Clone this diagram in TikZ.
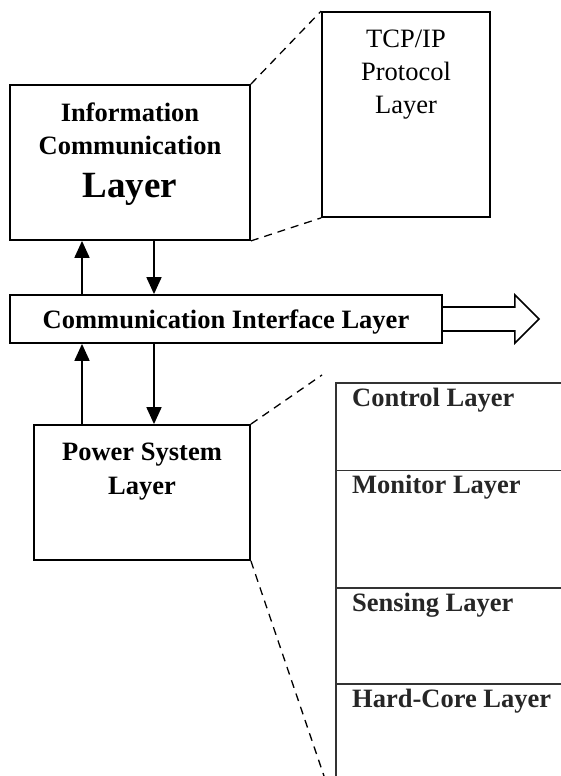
\documentclass[tikz,border=0pt]{standalone}
\usepackage{fontspec}
\setmainfont{Liberation Serif}
\usetikzlibrary{arrows.meta}

\tikzset{
	layerbox/.style={draw, line width=1.8pt, inner sep=0pt},
	boxtext/.style={anchor=north, align=center, inner sep=0pt, yshift=-19pt},
	boldtext/.style={font=\fontsize{26.5}{33}\selectfont\bfseries},
	plaintext/.style={font=\fontsize{26.5}{33}\selectfont},
	updown/.style={line width=1.8pt, -{Triangle[width=15pt,length=17pt]}},
	zoomline/.style={line width=1.3pt, dash pattern=on 8pt off 6pt},
	stackrow/.style={draw=black!80, line width=1.8pt, inner sep=0pt, anchor=north west, minimum width=260pt},
	rowtext/.style={anchor=north west, inner sep=0pt, xshift=17pt, yshift=-5.5pt, text=black!85, font=\fontsize{26.5}{30}\selectfont\bfseries}
}

\begin{document}
\begin{tikzpicture}[x=1pt, y=-1pt]
	\useasboundingbox (0,0) rectangle (561,776);
	\clip (0,0) rectangle (561,776);

	\node[layerbox, minimum width=240pt, minimum height=155pt,
		label={[boxtext, boldtext]north:Information\\Communication\\[10pt]{\fontsize{37}{40}\selectfont Layer}}] (info) at (130,162.5) {};
	\node[layerbox, minimum width=168pt, minimum height=205pt,
		label={[boxtext, plaintext]north:TCP/IP\\Protocol\\Layer}] (tcp) at (406,114.5) {};
	\node[layerbox, boldtext, minimum width=432pt, minimum height=48pt, text height=18pt, text depth=0pt] (comm) at (226,319) {Communication Interface Layer};
	\node[layerbox, minimum width=216pt, minimum height=135pt,
		label={[boxtext, boldtext, font=\fontsize{26.5}{34}\selectfont\bfseries]north:Power System\\Layer}] (power) at (142,492.5) {};

	% layers inside the power system
	\node[stackrow, minimum height=87.5pt, label={[rowtext]north west:Control Layer}] (ctrl) at (335,382) {};
	\node[stackrow, minimum height=117.5pt, label={[rowtext]north west:Monitor Layer}] (mon) at (335,469.5) {};
	\node[stackrow, minimum height=96pt, label={[rowtext]north west:Sensing Layer}] (sens) at (335,587) {};
	\node[stackrow, minimum height=120pt, label={[rowtext]north west:Hard-Core Layer}] (hard) at (335,683) {};

	\coordinate (upx) at (82,0);
	\coordinate (downx) at (154,0);
	\coordinate (stacktop) at (322,375);
	\coordinate (stackfoot) at (324,776);

	\draw[updown] (comm.north -| upx) -- (info.south -| upx);
	\draw[updown] (info.south -| downx) -- (comm.north -| downx);
	\draw[updown] (power.north -| upx) -- (comm.south -| upx);
	\draw[updown] (comm.south -| downx) -- (power.north -| downx);

	% hollow arrow out of the interface layer
	\draw[line width=1.6pt, line join=miter] (comm.east) ++(0,-12) -- ++(72,0) -- ++(0,-12) -- ++(24,24)
		-- ++(-24,24) -- ++(0,-12) -- ++(-72,0);

	\draw[zoomline] (info.north east) -- (tcp.north west);
	\draw[zoomline] (info.south east) -- (tcp.south west);
	\draw[zoomline] (power.north east) -- (stacktop);
	\draw[zoomline] (power.south east) -- (stackfoot);
\end{tikzpicture}
\end{document}
